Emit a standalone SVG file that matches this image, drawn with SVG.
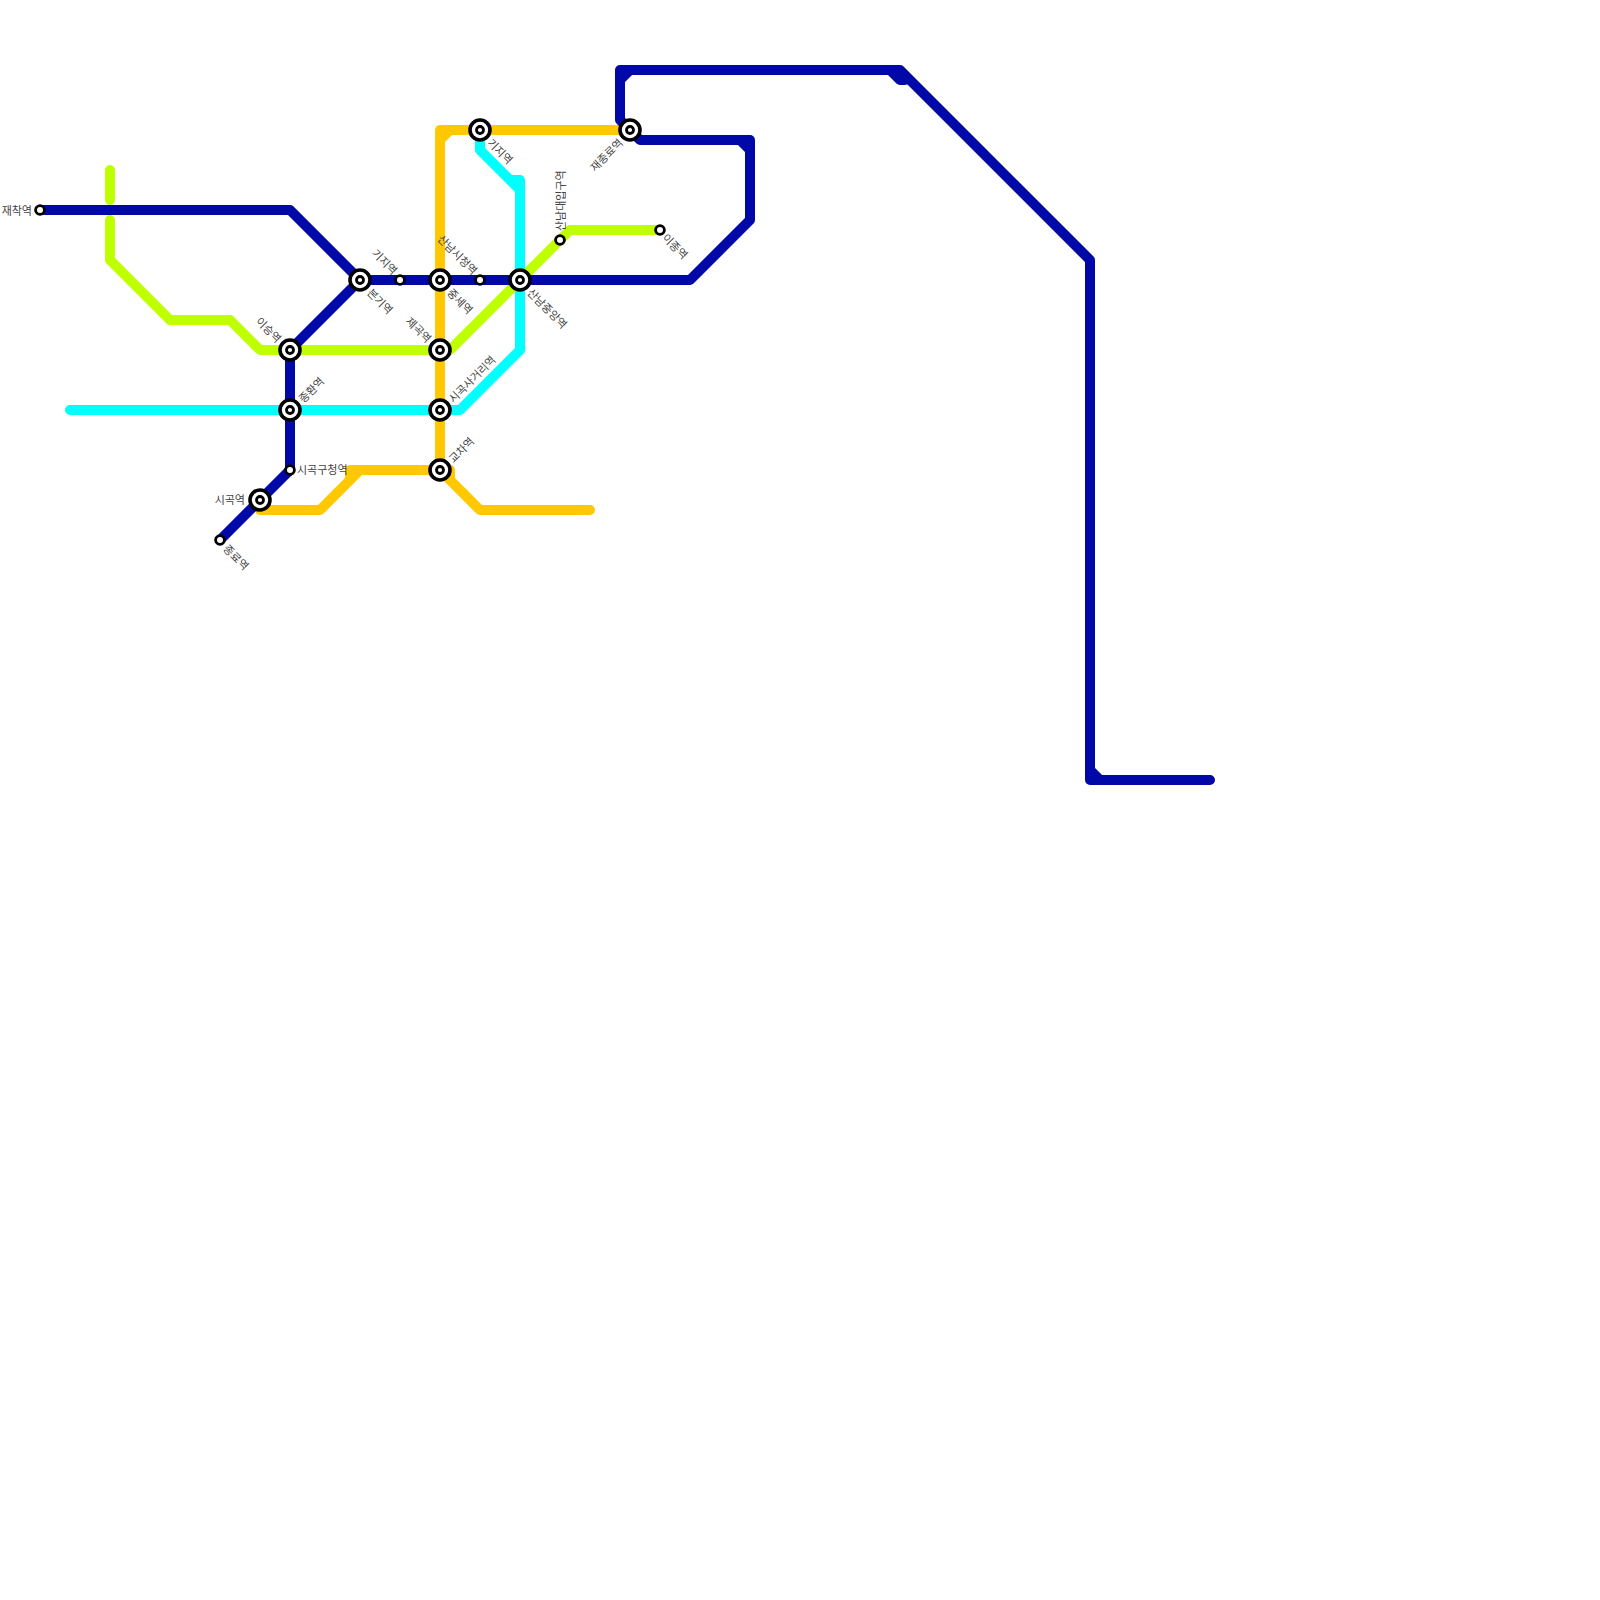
<svg xmlns="http://www.w3.org/2000/svg" width="1600" height="1600" viewBox="0 0 1600 1600">
<style>
.l{fill:none;stroke-width:10;stroke-linecap:round;stroke-linejoin:round}
.b{stroke:#0009a8}.c{stroke:#00ffff}.y{stroke:#ffc800}.g{stroke:#bfff00}
.o{fill:#fff;stroke:#000;stroke-width:3.6}
.i{fill:#fff;stroke:#000;stroke-width:2.8}
.s{fill:#fff;stroke:#000;stroke-width:2.8}
text{font-family:"Noto Sans CJK KR","Noto Sans",sans-serif;font-size:11px;fill:#444;dominant-baseline:central}
.e{text-anchor:end}
</style>
<rect width="1600" height="1600" fill="#fff"/>
<g id="connectors">
<path class="l c" d="M70,410H460L520,350V180H510L480,150V130M510,180L520,190"/>
<path class="l y" d="M630,130H440V470H450V480L480,510H590M440,140L450,130M440,470L450,480M440,470H350V480L320,510H260M350,480L360,470"/>
<path class="l g" d="M110,170V200M110,220V260L170,320H230L260,350H440M450,350L570,230H660"/>
<path class="l b" d="M40,210H290L360,280L290,350V470L220,540M360,280H690L750,220V140H640L630,130L620,120V70H900L1090,260V780H1210M620,80L630,70M740,140L750,150M890,70L900,80H905M1090,770L1100,780"/>
</g>
<g id="s1"><circle class="s" cx="40" cy="210" r="4.4"/><text class="e" x="32" y="209.5">재착역</text></g>
<g id="s2"><circle class="o" cx="360" cy="280" r="10"/><circle class="i" cx="360" cy="280" r="3.5"/><text transform="translate(370,290) rotate(45)">본기역</text></g>
<g id="s3"><circle class="s" cx="400" cy="280" r="4.4"/><text class="e" transform="translate(396,272) rotate(45)">기지역</text></g>
<g id="s4"><circle class="o" cx="440" cy="280" r="10"/><circle class="i" cx="440" cy="280" r="3.5"/><text transform="translate(450,290) rotate(45)">중세역</text></g>
<g id="s5"><circle class="s" cx="480" cy="280" r="4.4"/><text class="e" transform="translate(476,272) rotate(45)">산남시청역</text></g>
<g id="s6"><circle class="o" cx="520" cy="280" r="10"/><circle class="i" cx="520" cy="280" r="3.5"/><text transform="translate(530,290) rotate(45)">산남중앙역</text></g>
<g id="s7"><circle class="o" cx="290" cy="350" r="10"/><circle class="i" cx="290" cy="350" r="3.5"/><text class="e" transform="translate(280,340) rotate(45)">이승역</text></g>
<g id="s8"><circle class="o" cx="290" cy="410" r="10"/><circle class="i" cx="290" cy="410" r="3.5"/><text transform="translate(300,400) rotate(-45)">종환역</text></g>
<g id="s9"><circle class="s" cx="290" cy="470" r="4.4"/><text x="297" y="469">시곡구청역</text></g>
<g id="s10"><circle class="o" cx="260" cy="500" r="10"/><circle class="i" cx="260" cy="500" r="3.5"/><text class="e" x="245" y="499">시곡역</text></g>
<g id="s11"><circle class="s" cx="220" cy="540" r="4.4"/><text transform="translate(226,546) rotate(45)">종료역</text></g>
<g id="s12"><circle class="o" cx="440" cy="350" r="10"/><circle class="i" cx="440" cy="350" r="3.5"/><text class="e" transform="translate(430,340) rotate(45)">제곡역</text></g>
<g id="s13"><circle class="o" cx="440" cy="410" r="10"/><circle class="i" cx="440" cy="410" r="3.5"/><text transform="translate(450,400) rotate(-45)">시곡사거리역</text></g>
<g id="s14"><circle class="o" cx="440" cy="470" r="10"/><circle class="i" cx="440" cy="470" r="3.5"/><text transform="translate(450,460) rotate(-45)">교차역</text></g>
<g id="s15"><circle class="o" cx="480" cy="130" r="10"/><circle class="i" cx="480" cy="130" r="3.5"/><text transform="translate(490,140) rotate(45)">기지역</text></g>
<g id="s16"><circle class="o" cx="630" cy="130" r="10"/><circle class="i" cx="630" cy="130" r="3.5"/><text class="e" transform="translate(620,140) rotate(-45)">재종료역</text></g>
<g id="s17"><circle class="s" cx="560" cy="240" r="4.4"/><text transform="translate(560,231) rotate(-90)">산남대입구역</text></g>
<g id="s18"><circle class="s" cx="660" cy="230" r="4.4"/><text transform="translate(665,235) rotate(45)">이종역</text></g>
</svg>
